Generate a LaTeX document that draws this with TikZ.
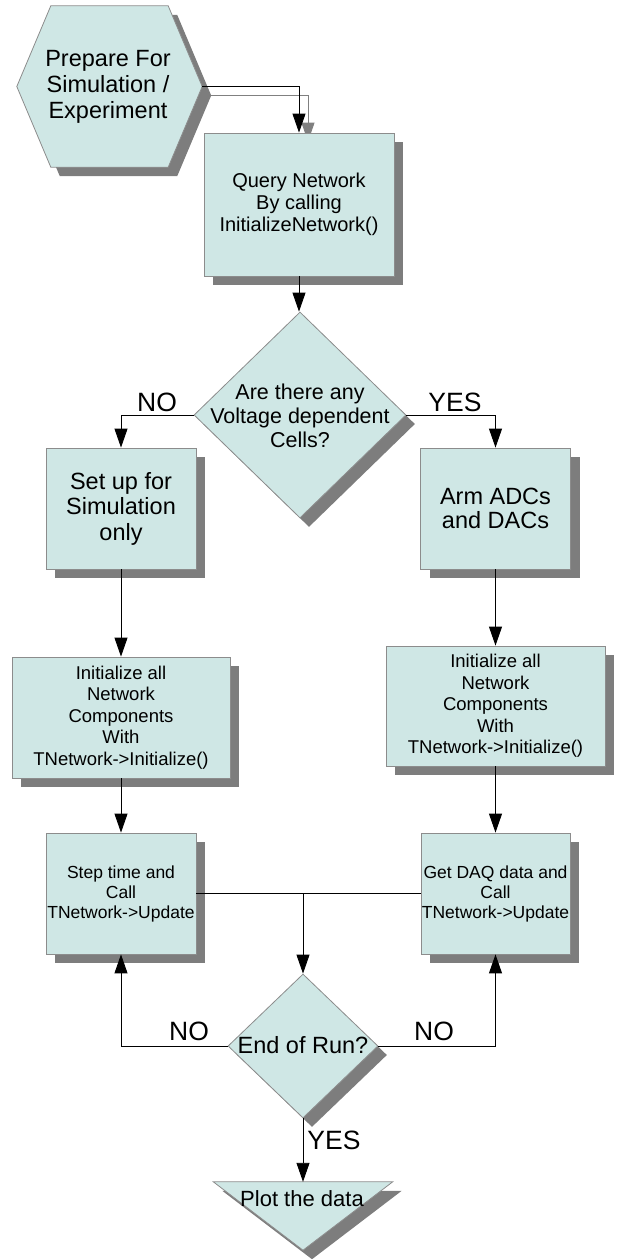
\documentclass[tikz,border=0pt]{standalone}
\usepackage{fontspec}
\setmainfont{Liberation Sans}
\usetikzlibrary{arrows.meta,shapes.geometric,shadows}
\definecolor{boxfill}{RGB}{207,231,229}
\definecolor{shadowgray}{RGB}{125,125,125}
\definecolor{edgegray}{RGB}{140,140,140}
\pgfdeclarelayer{bg}
\pgfsetlayers{bg,main}
\tikzset{
  fillshape/.style={fill=boxfill, draw=edgegray, line width=0.8pt},
  shad/.style={drop shadow={shadow xshift=9pt, shadow yshift=-9pt, opacity=1, fill=shadowgray}},
  procbox/.style={fillshape, shad, rectangle, inner sep=0pt, align=center},
  decision/.style={fillshape, shad, diamond, inner sep=0pt},
  conn/.style={draw=black, line width=0.9pt},
  arr/.style={conn, -{Triangle[length=19pt,width=13pt]}},
  lbl/.style={inner sep=0pt, font=\fontsize{26.5}{28}\selectfont},
  plain/.style={inner sep=0pt, align=center},
}
\begin{document}
\begin{tikzpicture}[x=1pt,y=-1pt]
\useasboundingbox (0,0) rectangle (621,1259);

% start hexagon
\node[minimum width=185pt, minimum height=161pt, inner sep=0pt] (hex) at (109.5,86.5) {};
\path[fillshape, shad] (hex.west) -- ([xshift=34pt]hex.north west) -- ([xshift=-34pt]hex.north east)
  -- (hex.east) -- ([xshift=-34pt]hex.south east) -- ([xshift=34pt]hex.south west) -- cycle;
\node[plain, font=\fontsize{23.5}{26}\selectfont] (hexlabel) at (108,86.5) {Prepare For\\Simulation /\\Experiment};

% query box
\node[procbox, minimum width=190pt, minimum height=143pt, font=\fontsize{20}{22}\selectfont] (q) at (299,204.5)
  {Query Network\\By calling\\InitializeNetwork()};

% decision 1
\node[decision, minimum width=212pt, minimum height=206pt] (d1) at (300,415) {};
\node[plain, font=\fontsize{21.5}{24}\selectfont] (d1text) at (300,416) {Are there any\\Voltage dependent\\Cells?};

% left column
\node[procbox, minimum width=150pt, minimum height=121pt, font=\fontsize{23.5}{25.5}\selectfont] (s1) at (121,508.5)
  {Set up for\\Simulation\\only};
\node[procbox, minimum width=218pt, minimum height=121pt, font=\fontsize{18.5}{21.5}\selectfont] (s2) at (121,717.5)
  {Initialize all\\Network\\Components\\With\\TNetwork->Initialize()};
\node[procbox, minimum width=150pt, minimum height=121pt, font=\fontsize{17.5}{20}\selectfont] (st) at (121,893.5)
  {Step time and\\Call\\TNetwork->Update};

% right column
\node[procbox, minimum width=150pt, minimum height=121pt, font=\fontsize{23.5}{24.5}\selectfont] (a1) at (495.5,508.5)
  {Arm ADCs\\and DACs};
\node[procbox, minimum width=219pt, minimum height=120pt, font=\fontsize{18.5}{21.5}\selectfont] (a2) at (495.5,706)
  {Initialize all\\Network\\Components\\With\\TNetwork->Initialize()};
\node[procbox, minimum width=149pt, minimum height=121pt, font=\fontsize{17.5}{20}\selectfont] (gd) at (495.5,893.5)
  {Get DAQ data and\\Call\\TNetwork->Update};

% decision 2
\node[decision, minimum width=150pt, minimum height=144pt] (d2) at (303,1046) {};
\node[plain, font=\fontsize{23.5}{26}\selectfont] (d2text) at (303,1045.5) {End of Run?};

% plot triangle
\node[minimum width=179pt, minimum height=68pt, inner sep=0pt] (plot) at (303,1216) {};
\path[fillshape, shad] (plot.north west) -- (plot.north east) -- (plot.south) -- cycle;
\node[plain, font=\fontsize{22}{24}\selectfont] (plottext) at (302,1199) {Plot the data};

% shadow of the first connector
\begin{pgfonlayer}{bg}
\draw[black!50, line width=0.9pt, -{Triangle[length=19pt,width=13pt]}]
  ([shift={(9,9)}]hex.east) -| ([shift={(9,9)}]q.north);
\end{pgfonlayer}

% connectors
\draw[arr] (hex.east) -| (q.north);
\draw[arr] (q.south) -- (d1.north -| q.south);
\draw[arr] (d1.west) -| (s1.north);
\draw[arr] (d1.east) -| (a1.north);
\draw[arr] (s1.south) -- (s2.north);
\draw[arr] (a1.south) -- (a2.north);
\draw[arr] (s2.south) -- (st.north);
\draw[arr] (a2.south) -- (gd.north);
\draw[conn] (st.east) -- (gd.west);
\draw[arr] (st.east -| d2.north) -- (d2.north);
\draw[arr] (d2.west) -| (st.south);
\draw[arr] (d2.east) -| (gd.south);
\draw[arr] (d2.south) -- (plot.north);

% labels
\node[lbl] (no1) at (157,402) {NO};
\node[lbl] (yes1) at (455,402) {YES};
\node[lbl] (no2) at (189,1031) {NO};
\node[lbl] (no3) at (434,1031) {NO};
\node[lbl] (yes2) at (334,1140) {YES};
\end{tikzpicture}
\end{document}
